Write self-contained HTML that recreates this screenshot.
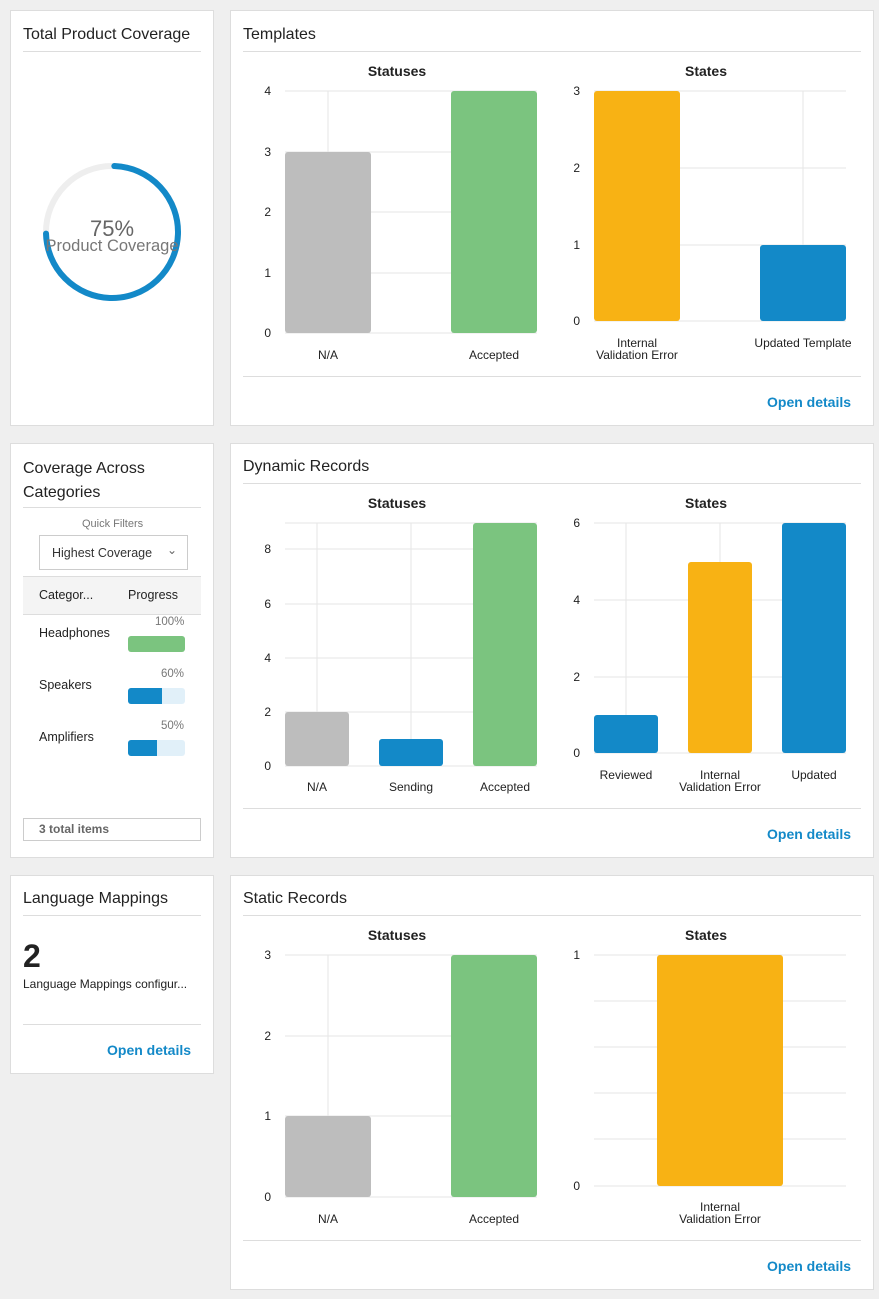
<!DOCTYPE html>
<html><head><meta charset="utf-8"><style>
body{margin:0;background:#efefef;width:879px;height:1299px;position:relative;overflow:hidden;font-family:"Liberation Sans","DejaVu Sans",sans-serif;color:#222}
.card{position:absolute;background:#fff;border:1px solid #ddd;box-sizing:border-box}
.t{position:absolute;font-size:16px;color:#222}
.hr{position:absolute;height:1px;background:#ddd}
.od{position:absolute;font-size:14px;font-weight:bold;color:#1389c8}
svg{position:absolute;left:0;top:0}
.ab{position:absolute;font-size:12.5px}
</style></head><body>
<div class="card" style="left:10px;top:10px;width:204px;height:416px"></div>
<div class="card" style="left:230px;top:10px;width:644px;height:416px"></div>
<div class="card" style="left:10px;top:443px;width:204px;height:415px"></div>
<div class="card" style="left:230px;top:443px;width:644px;height:415px"></div>
<div class="card" style="left:10px;top:875px;width:204px;height:199px"></div>
<div class="card" style="left:230px;top:875px;width:644px;height:415px"></div>

<div class="t" style="left:23px;top:26px">Total Product Coverage</div>
<div class="hr" style="left:23px;top:51px;width:178px"></div>
<div class="t" style="left:243px;top:26px">Templates</div>
<div class="hr" style="left:243px;top:51px;width:618px"></div>
<div class="t" style="left:23px;top:457px;line-height:24px">Coverage Across<br>Categories</div>
<div class="hr" style="left:23px;top:507px;width:178px"></div>
<div class="t" style="left:243px;top:458px">Dynamic Records</div>
<div class="hr" style="left:243px;top:483px;width:618px"></div>
<div class="t" style="left:23px;top:890px">Language Mappings</div>
<div class="hr" style="left:23px;top:915px;width:178px"></div>
<div class="t" style="left:243px;top:890px">Static Records</div>
<div class="hr" style="left:243px;top:915px;width:618px"></div>

<div class="hr" style="left:243px;top:376px;width:618px"></div>
<div class="od" style="left:767px;top:394px">Open details</div>
<div class="hr" style="left:243px;top:808px;width:618px"></div>
<div class="od" style="left:767px;top:826px">Open details</div>
<div class="hr" style="left:243px;top:1240px;width:618px"></div>
<div class="od" style="left:767px;top:1258px">Open details</div>
<div class="hr" style="left:23px;top:1024px;width:178px"></div>
<div class="od" style="left:107px;top:1042px">Open details</div>

<div style="position:absolute;left:23px;top:938px;font-size:32px;font-weight:bold">2</div>
<div class="ab" style="left:23px;top:977px;font-size:12px">Language Mappings configur...</div>

<div class="ab" style="left:82px;top:518px;font-size:11px;color:#777">Quick Filters</div>
<div style="position:absolute;left:39px;top:535px;width:149px;height:35px;border:1px solid #ccc;box-sizing:border-box"></div>
<div class="ab" style="left:52px;top:546px;font-size:12.5px;color:#333">Highest Coverage</div>
<div class="ab" style="left:167px;top:543px;font-size:12px;color:#666">&#8964;</div>
<div style="position:absolute;left:23px;top:576px;width:178px;height:37px;background:#f4f4f4;border-top:1px solid #ddd;border-bottom:1px solid #ddd"></div>
<div class="ab" style="left:39px;top:588px;font-size:12.5px">Categor...</div>
<div class="ab" style="left:128px;top:588px;font-size:12.5px">Progress</div>
<div class="ab" style="left:39px;top:626px">Headphones</div>
<div class="ab" style="left:39px;top:678px">Speakers</div>
<div class="ab" style="left:39px;top:730px">Amplifiers</div>
<div class="ab" style="left:155px;top:616px;font-size:11.5px;color:#777">100%</div>
<div class="ab" style="left:161px;top:668px;font-size:11.5px;color:#777">60%</div>
<div class="ab" style="left:161px;top:720px;font-size:11.5px;color:#777">50%</div>
<div style="position:absolute;left:128px;top:636px;width:57px;height:16px;background:#7bc47f;border-radius:3px"></div>
<div style="position:absolute;left:128px;top:688px;width:57px;height:16px;background:#e1f0f9;border-radius:3px"><div style="width:34px;height:16px;background:#1389c8;border-radius:3px 0 0 3px"></div></div>
<div style="position:absolute;left:128px;top:740px;width:57px;height:16px;background:#e1f0f9;border-radius:3px"><div style="width:29px;height:16px;background:#1389c8;border-radius:3px 0 0 3px"></div></div>
<div style="position:absolute;left:23px;top:818px;width:178px;height:23px;border:1px solid #ccc;box-sizing:border-box"></div>
<div class="ab" style="left:39px;top:822px;font-size:12px;font-weight:bold;color:#666">3 total items</div>

<svg width="879" height="1299" font-family="Liberation Sans, DejaVu Sans, sans-serif" font-size="12" fill="#222">
<circle cx="112" cy="232" r="66" fill="none" stroke="#eee" stroke-width="6"/>
<circle cx="112" cy="232" r="66" fill="none" stroke="#1389c8" stroke-width="6" stroke-linecap="round" stroke-dasharray="307 500" transform="rotate(-88 112 232)"/>
<text x="112" y="236" text-anchor="middle" font-size="22" fill="#666">75%</text>
<text x="112" y="251" text-anchor="middle" font-size="16.5" fill="#777">Product Coverage</text>

<g stroke="#e6e6e6" stroke-width="1">
<line x1="285" x2="537" y1="91" y2="91"/><line x1="285" x2="537" y1="152" y2="152"/><line x1="285" x2="537" y1="212" y2="212"/><line x1="285" x2="537" y1="273" y2="273"/><line x1="285" x2="537" y1="333" y2="333"/>
<line x1="328" x2="328" y1="91" y2="333"/><line x1="494" x2="494" y1="91" y2="333"/>
<line x1="594" x2="846" y1="91" y2="91"/><line x1="594" x2="846" y1="168" y2="168"/><line x1="594" x2="846" y1="245" y2="245"/><line x1="594" x2="846" y1="321" y2="321"/>
<line x1="637" x2="637" y1="91" y2="321"/><line x1="803" x2="803" y1="91" y2="321"/>
<line x1="285" x2="537" y1="523" y2="523"/><line x1="285" x2="537" y1="549" y2="549"/><line x1="285" x2="537" y1="604" y2="604"/><line x1="285" x2="537" y1="658" y2="658"/><line x1="285" x2="537" y1="712" y2="712"/><line x1="285" x2="537" y1="766" y2="766"/>
<line x1="317" x2="317" y1="523" y2="766"/><line x1="411" x2="411" y1="523" y2="766"/><line x1="505" x2="505" y1="523" y2="766"/>
<line x1="594" x2="846" y1="523" y2="523"/><line x1="594" x2="846" y1="600" y2="600"/><line x1="594" x2="846" y1="677" y2="677"/><line x1="594" x2="846" y1="753" y2="753"/>
<line x1="626" x2="626" y1="523" y2="753"/><line x1="720" x2="720" y1="523" y2="753"/><line x1="814" x2="814" y1="523" y2="753"/>
<line x1="285" x2="537" y1="955" y2="955"/><line x1="285" x2="537" y1="1036" y2="1036"/><line x1="285" x2="537" y1="1116" y2="1116"/><line x1="285" x2="537" y1="1197" y2="1197"/>
<line x1="328" x2="328" y1="955" y2="1197"/><line x1="494" x2="494" y1="955" y2="1197"/>
<line x1="594" x2="846" y1="955" y2="955"/><line x1="594" x2="846" y1="1001" y2="1001"/><line x1="594" x2="846" y1="1047" y2="1047"/><line x1="594" x2="846" y1="1093" y2="1093"/><line x1="594" x2="846" y1="1139" y2="1139"/><line x1="594" x2="846" y1="1186" y2="1186"/>
<line x1="720" x2="720" y1="955" y2="1186"/>
</g>

<g>
<rect x="285" y="152" width="86" height="181" rx="3" fill="#bdbdbd"/>
<rect x="451" y="91" width="86" height="242" rx="3" fill="#7bc47f"/>
<rect x="594" y="91" width="86" height="230" rx="3" fill="#f8b214"/>
<rect x="760" y="245" width="86" height="76" rx="3" fill="#1389c8"/>
<rect x="285" y="712" width="64" height="54" rx="3" fill="#bdbdbd"/>
<rect x="379" y="739" width="64" height="27" rx="3" fill="#1389c8"/>
<rect x="473" y="523" width="64" height="243" rx="3" fill="#7bc47f"/>
<rect x="594" y="715" width="64" height="38" rx="3" fill="#1389c8"/>
<rect x="688" y="562" width="64" height="191" rx="3" fill="#f8b214"/>
<rect x="782" y="523" width="64" height="230" rx="3" fill="#1389c8"/>
<rect x="285" y="1116" width="86" height="81" rx="3" fill="#bdbdbd"/>
<rect x="451" y="955" width="86" height="242" rx="3" fill="#7bc47f"/>
<rect x="657" y="955" width="126" height="231" rx="3" fill="#f8b214"/>
</g>

<g font-weight="bold" font-size="14" text-anchor="middle">
<text x="397" y="76">Statuses</text><text x="706" y="76">States</text>
<text x="397" y="508">Statuses</text><text x="706" y="508">States</text>
<text x="397" y="940">Statuses</text><text x="706" y="940">States</text>
</g>
<g text-anchor="end">
<text x="271" y="95">4</text><text x="271" y="156">3</text><text x="271" y="216">2</text><text x="271" y="277">1</text><text x="271" y="337">0</text>
<text x="580" y="95">3</text><text x="580" y="172">2</text><text x="580" y="249">1</text><text x="580" y="325">0</text>
<text x="271" y="553">8</text><text x="271" y="608">6</text><text x="271" y="662">4</text><text x="271" y="716">2</text><text x="271" y="770">0</text>
<text x="580" y="527">6</text><text x="580" y="604">4</text><text x="580" y="681">2</text><text x="580" y="757">0</text>
<text x="271" y="959">3</text><text x="271" y="1040">2</text><text x="271" y="1120">1</text><text x="271" y="1201">0</text>
<text x="580" y="959">1</text><text x="580" y="1190">0</text>
</g>
<g text-anchor="middle">
<text x="328" y="359">N/A</text><text x="494" y="359">Accepted</text>
<text x="637" y="347">Internal</text><text x="637" y="359">Validation Error</text><text x="803" y="347">Updated Template</text>
<text x="317" y="791">N/A</text><text x="411" y="791">Sending</text><text x="505" y="791">Accepted</text>
<text x="626" y="779">Reviewed</text><text x="720" y="779">Internal</text><text x="720" y="791">Validation Error</text><text x="814" y="779">Updated</text>
<text x="328" y="1223">N/A</text><text x="494" y="1223">Accepted</text>
<text x="720" y="1211">Internal</text><text x="720" y="1223">Validation Error</text>
</g>
</svg>
</body></html>
